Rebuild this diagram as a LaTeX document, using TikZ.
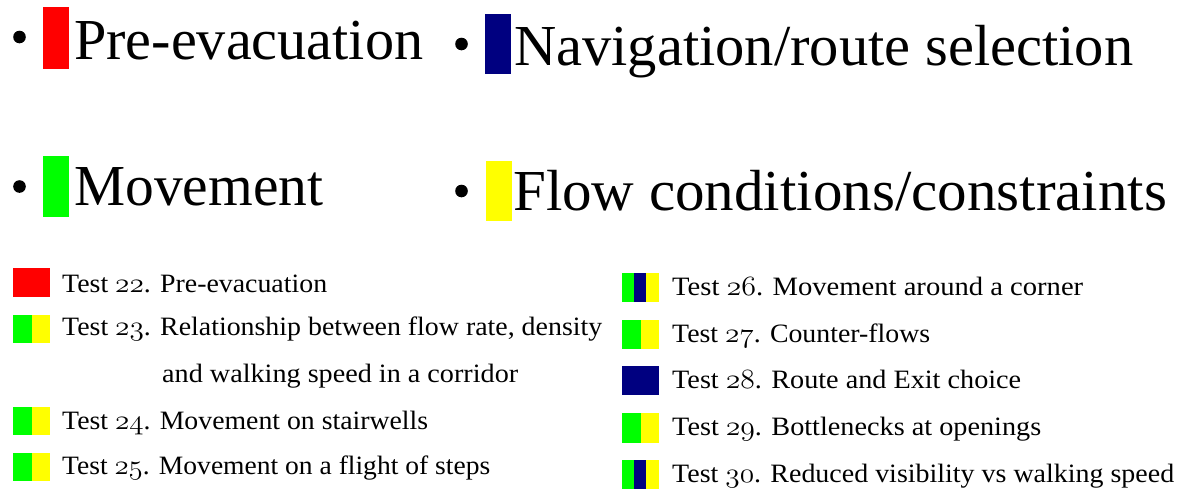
\documentclass[tikz,border=0pt]{standalone}
\usepackage{fontspec}
\setmainfont{Liberation Serif}
\usepackage{graphicx}
\definecolor{catred}{HTML}{FF0000}
\definecolor{catblue}{HTML}{000080}
\definecolor{catgreen}{HTML}{00FF00}
\definecolor{catyellow}{HTML}{FFFF00}
% old-style figures for the test numbers
\newcommand\osf[1]{\scalebox{1.12}{\usefont{OML}{cmm}{m}{it}#1}}
% stretch a text horizontally to a given width (in pt), keeping its height
\newcommand\fitto[2]{\resizebox{#1pt}{\height}{#2}}
\begin{document}
\begin{tikzpicture}[x=1pt,y=-1pt,
  head/.style={anchor=base west, inner sep=0pt, font=\fontsize{58}{60}\selectfont},
  item/.style={anchor=base west, inner sep=0pt, font=\fontsize{26.5}{28}\selectfont},
  dot/.style={circle, fill=black, inner sep=0pt, minimum size=12.6pt}]
\useasboundingbox (0,0) rectangle (1178,490);

% ---- category headings ----
\node[dot] (d1) at (19.5,37) {};
\fill[catred] (43,7) rectangle (69,69);
\node[head] (h1) at (74,59) {\fitto{349}{Pre-evacuation}};

\node[dot] (d2) at (461.5,44) {};
\fill[catblue] (485,14) rectangle (511,74);
\node[head] (h2) at (514,65) {\fitto{619}{Navigation/route selection}};

\node[dot] (d3) at (19.5,186.5) {};
\fill[catgreen] (43,156) rectangle (69,217);
\node[head] (h3) at (74,205) {\fitto{249}{Movement}};

\node[dot] (d4) at (461.5,191) {};
\fill[catyellow] (486,161) rectangle (512,221);
\node[head] (h4) at (513,210) {\fitto{654}{Flow conditions/constraints}};

% ---- list of tests, left column ----
\fill[catred] (13,268) rectangle (50,297);
\node[item] (t22) at (62,292) {\fitto{265}{Test \osf{22}. Pre-evacuation}};

\fill[catgreen] (13,315) rectangle (32,343);
\fill[catyellow] (32,315) rectangle (50,343);
\node[item] (t23) at (62,335) {\fitto{540}{Test \osf{23}. Relationship between flow rate, density}};
\node[item] (t23b) at (162,382) {\fitto{356}{and walking speed in a corridor}};

\fill[catgreen] (13,407) rectangle (32,435);
\fill[catyellow] (32,407) rectangle (50,435);
\node[item] (t24) at (62,429) {\fitto{366}{Test \osf{24}. Movement on stairwells}};

\fill[catgreen] (13,453) rectangle (32,481);
\fill[catyellow] (32,453) rectangle (50,481);
\node[item] (t25) at (62,474) {\fitto{428}{Test \osf{25}. Movement on a flight of steps}};

% ---- list of tests, right column ----
\fill[catgreen] (622,273) rectangle (634,302);
\fill[catblue] (634,273) rectangle (646,302);
\fill[catyellow] (646,273) rectangle (659,302);
\node[item] (t26) at (672,295) {\fitto{411}{Test \osf{26}. Movement around a corner}};

\fill[catgreen] (622,320) rectangle (641,349);
\fill[catyellow] (641,320) rectangle (659,349);
\node[item] (t27) at (672,342) {\fitto{258}{Test \osf{27}. Counter-flows}};

\fill[catblue] (622,366) rectangle (659,395);
\node[item] (t28) at (672,388) {\fitto{349}{Test \osf{28}. Route and Exit choice}};

\fill[catgreen] (622,413) rectangle (641,443);
\fill[catyellow] (641,413) rectangle (659,443);
\node[item] (t29) at (672,435) {\fitto{369}{Test \osf{29}. Bottlenecks at openings}};

\fill[catgreen] (622,460) rectangle (634,489);
\fill[catblue] (634,460) rectangle (646,489);
\fill[catyellow] (646,460) rectangle (659,489);
\node[item] (t30) at (672,482) {\fitto{502}{Test \osf{30}. Reduced visibility vs walking speed}};
\end{tikzpicture}
\end{document}
